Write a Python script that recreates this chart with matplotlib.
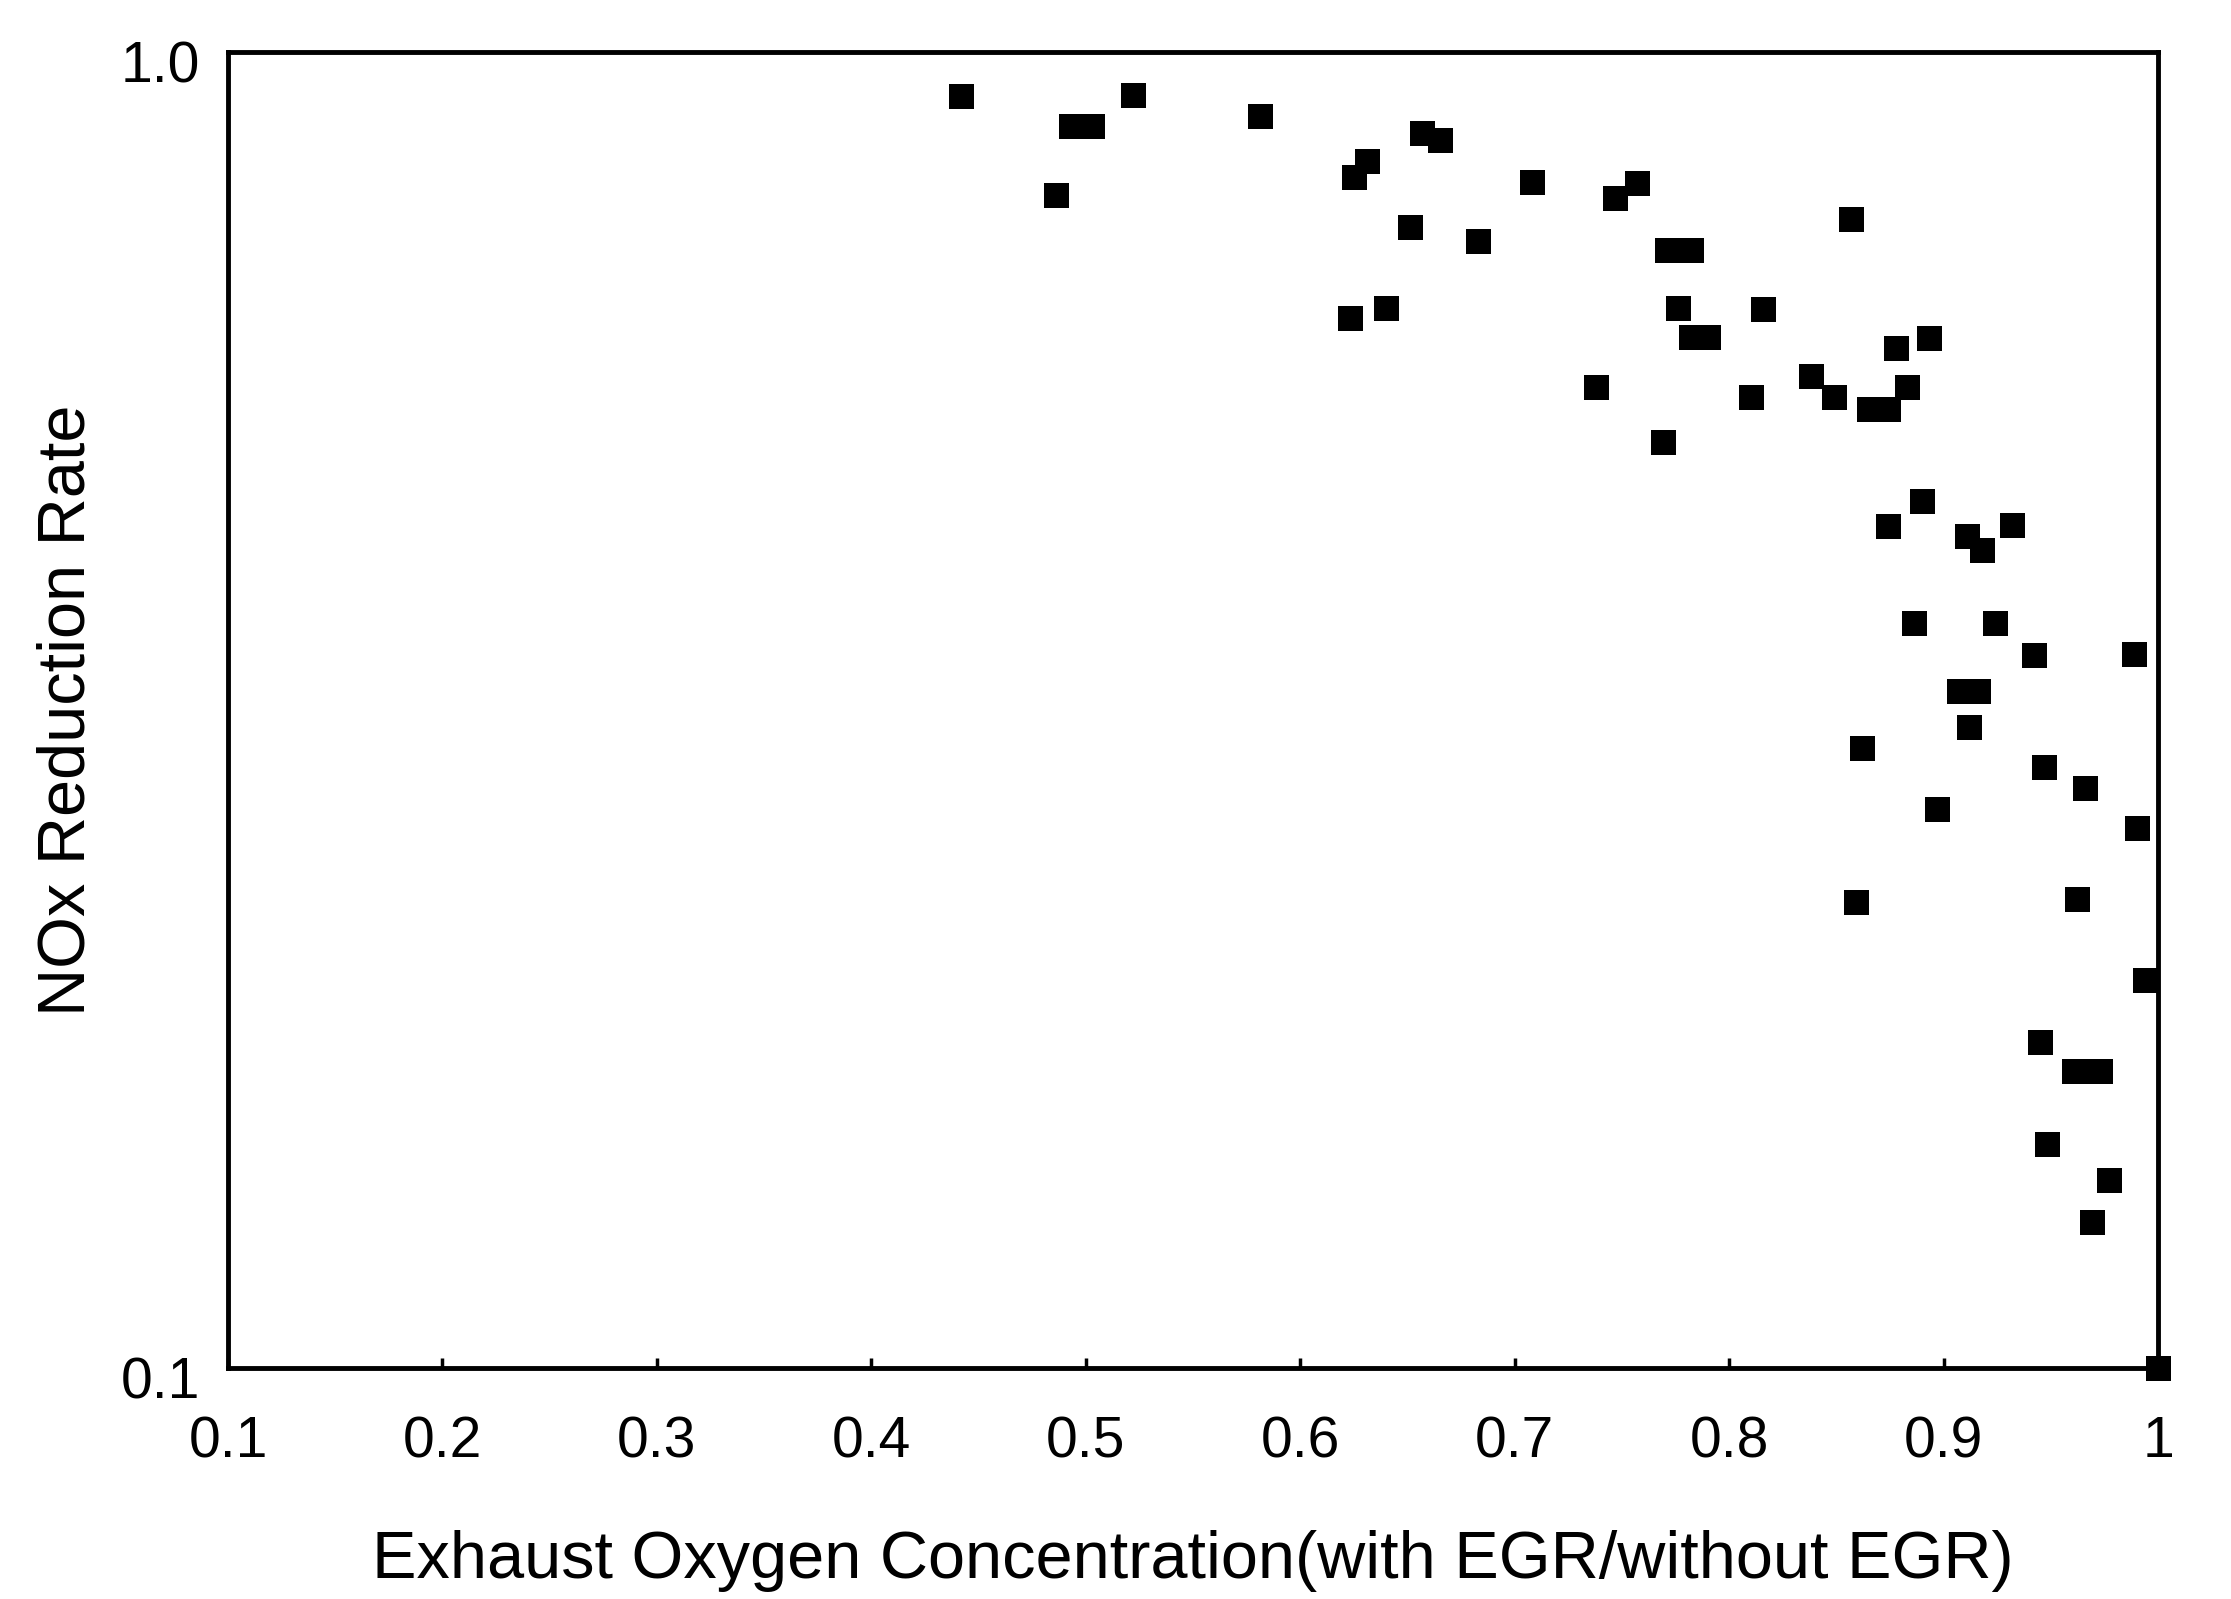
import matplotlib
matplotlib.use("Agg")
import matplotlib.pyplot as plt
from matplotlib.ticker import FixedLocator, NullLocator
from matplotlib.transforms import ScaledTranslation

# Oxygen ratio (with EGR / without EGR) and the measured NOx reduction rate
o2_ratio = [
    0.442, 0.486, 0.493, 0.503, 0.522, 0.581, 0.625, 0.631, 0.657, 0.665,
    0.651, 0.623, 0.640, 0.683, 0.708, 0.747, 0.757, 0.771, 0.782, 0.776,
    0.782, 0.790, 0.738, 0.769, 0.816, 0.810, 0.838, 0.849, 0.857, 0.865,
    0.874, 0.883, 0.878, 0.893, 0.874, 0.890, 0.911, 0.918, 0.932, 0.886,
    0.924, 0.942, 0.907, 0.916, 0.912, 0.862, 0.897, 0.947, 0.966, 0.989,
    0.990, 0.859, 0.962, 0.994, 0.945, 0.961, 0.967, 0.973, 0.948, 0.977,
    0.969, 1.000,
]
nox_rate = [
    0.926, 0.779, 0.878, 0.878, 0.928, 0.894, 0.804, 0.827, 0.868, 0.857,
    0.736, 0.628, 0.639, 0.718, 0.797, 0.774, 0.795, 0.707, 0.707, 0.639,
    0.607, 0.607, 0.556, 0.505, 0.638, 0.547, 0.567, 0.547, 0.747, 0.535,
    0.535, 0.556, 0.596, 0.606, 0.436, 0.456, 0.429, 0.418, 0.437, 0.368,
    0.368, 0.348, 0.327, 0.327, 0.307, 0.296, 0.266, 0.286, 0.276, 0.349,
    0.257, 0.226, 0.227, 0.197, 0.177, 0.168, 0.168, 0.168, 0.148, 0.139,
    0.129, 0.100,
]

x_ticks = [0.1, 0.2, 0.3, 0.4, 0.5, 0.6, 0.7, 0.8, 0.9, 1.0]
x_tick_labels = ["0.1", "0.2", "0.3", "0.4", "0.5", "0.6", "0.7", "0.8", "0.9", "1"]
y_ticks = [0.1, 1.0]
y_tick_labels = ["0.1", "1.0"]

plt.rcParams["font.family"] = ["Liberation Sans", "DejaVu Sans"]

fig = plt.figure(figsize=(22.31, 15.99), dpi=100)
ax = fig.add_axes([0.1022, 0.1445, 0.8651, 0.823])

ax.plot(o2_ratio, nox_rate, linestyle="none", marker="s", markersize=18,
        color="black", markeredgewidth=0, clip_on=False)

ax.set_yscale("log")
ax.set_xlim(0.1, 1.0)
ax.set_ylim(0.1, 1.0)

ax.xaxis.set_major_locator(FixedLocator(x_ticks))
ax.set_xticklabels(x_tick_labels)
ax.yaxis.set_major_locator(FixedLocator(y_ticks))
ax.yaxis.set_minor_locator(NullLocator())
ax.set_yticklabels(y_tick_labels)

ax.tick_params(axis="both", direction="in", length=7, width=2.5,
               labelsize=41, colors="black")
ax.tick_params(axis="x", pad=34)
ax.tick_params(axis="y", pad=20, length=0)

# y tick labels sit a little below their gridline positions
shift = ScaledTranslation(0, -7 / 72, fig.dpi_scale_trans)
for lbl in ax.get_yticklabels():
    lbl.set_transform(lbl.get_transform() + shift)

for spine in ax.spines.values():
    spine.set_linewidth(3.5)
    spine.set_color("black")

ax.set_xlabel("Exhaust Oxygen Concentration(with EGR/without EGR)",
              fontsize=48, labelpad=44)
ax.set_ylabel("NOx Reduction Rate", fontsize=48, labelpad=16)

fig.savefig("out.png", dpi=100, facecolor="white")
